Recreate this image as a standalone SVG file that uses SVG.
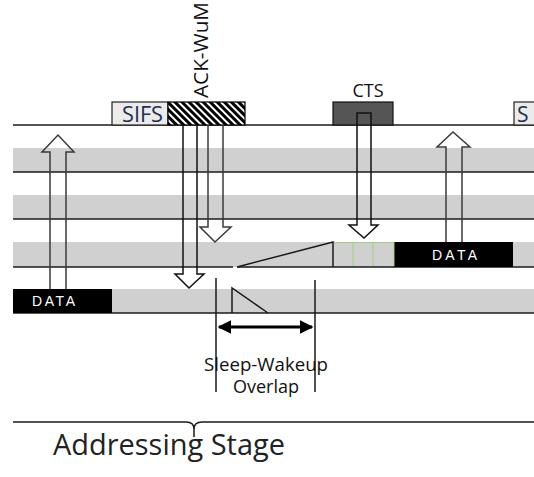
<svg xmlns="http://www.w3.org/2000/svg" width="534" height="477" viewBox="0 0 534 477">
<style>
.band{fill:#d0d0d0}
.ln{stroke:#1a1a1a;stroke-width:1.5;fill:none}
.arr{fill:none;stroke:#3a3a3a;stroke-width:1.5}
.arrk{fill:none;stroke:#111;stroke-width:1.5}
.lbl{font-family:"Open Sans","Liberation Sans",sans-serif;fill:#111}
.data{font-family:"Liberation Sans",Arial,sans-serif;font-size:14px;fill:#fff}
.green{stroke:#9fd07f;stroke-width:1;fill:none}
</style>
<defs>
<pattern id="hatch" width="5" height="5" patternUnits="userSpaceOnUse" patternTransform="rotate(45)">
<rect width="5" height="5" fill="#000"/>
<rect x="0" y="0" width="5" height="2" fill="#fff"/>
</pattern>
<marker id="ah" markerWidth="4.5" markerHeight="4.5" refX="4" refY="2.25" orient="auto-start-reverse" markerUnits="strokeWidth">
<path d="M0,0 L4.5,2.25 L0,4.5 Z" fill="#000"/>
</marker>
</defs>
<rect width="534" height="477" fill="#fff"/>
<g id="bands">
<rect class="band" x="13" y="148" width="521" height="24"/>
<rect class="band" x="13" y="195" width="521" height="24"/>
<rect class="band" x="13" y="242" width="521" height="25"/>
<rect class="band" x="13" y="289" width="521" height="24"/>
</g>
<g id="lines">
<line class="ln" x1="13" y1="125" x2="534" y2="125"/>
<line class="ln" x1="13" y1="172" x2="534" y2="172"/>
<line class="ln" x1="13" y1="219" x2="534" y2="219"/>
<line class="ln" x1="13" y1="267" x2="233" y2="267"/>
<line class="ln" x1="237" y1="267" x2="534" y2="267"/>
<line class="ln" x1="13" y1="313" x2="534" y2="313"/>
</g>
<g id="sifs">
<rect x="112" y="102" width="56" height="23" fill="#ebebeb" stroke="#222" stroke-width="1.2"/>
<text class="lbl" x="122" y="122" font-size="21" style="fill:#1f3050" textLength="41" lengthAdjust="spacingAndGlyphs">SIFS</text>
</g>
<g id="ack">
<rect x="168" y="102" width="77" height="23" fill="url(#hatch)" stroke="#000" stroke-width="1.2"/>
<text class="lbl" transform="translate(208,98) rotate(-90)" font-size="20" textLength="96" lengthAdjust="spacingAndGlyphs">ACK-WuM</text>
</g>
<g id="cts">
<rect x="333" y="102" width="60" height="23" fill="#555" stroke="#111" stroke-width="1.2"/>
<text class="lbl" x="368" y="97" font-size="18" text-anchor="middle">CTS</text>
</g>
<g id="sifs2">
<rect x="514" y="102" width="24" height="23" fill="#ebebeb" stroke="#222" stroke-width="1.2"/>
<text class="lbl" x="517" y="122" font-size="21" style="fill:#1f3050">S</text>
</g>
<g id="data1">
<rect x="13" y="289" width="99" height="24" fill="#000"/>
<text class="data" x="32" y="306" textLength="43" lengthAdjust="spacing">DATA</text>
</g>
<g id="data2">
<rect x="394" y="242" width="119" height="25" fill="#000"/>
<text class="data" x="432" y="260" textLength="45" lengthAdjust="spacing">DATA</text>
</g>
<g id="cells">
<line class="green" x1="333" y1="242.5" x2="394" y2="242.5"/>
<line class="green" x1="353" y1="242" x2="353" y2="266"/>
<line class="green" x1="373" y1="242" x2="373" y2="266"/>
<line class="green" x1="394" y1="242" x2="394" y2="266"/>
</g>
<g id="ramps">
<path class="ln" d="M237,267 L333,242 V267"/>
<path class="ln" d="M232,313 V288 L268,313"/>
</g>
<g id="connectors">
<polyline class="arr" points="50,289 50,152 42,152 58,135 74,152 66,152 66,289"/>
<polyline class="arr" points="446,242 446,147 437,147 453,132 470,147 462,147 462,242"/>
<polyline class="arrk" points="183,125 183,274 175,274 189,288 204,274 197,274 197,125"/>
<polyline class="arr" points="208,125 208,227 200,227 215,242 231,227 223,227 223,125"/>
<polygon class="arrk" points="357,113 371,113 371,225 378,225 364,238 349,225 357,225"/>
<line class="ln" x1="216" y1="278" x2="216" y2="392"/>
<line class="ln" x1="315" y1="280" x2="315" y2="392"/>
<line x1="219" y1="327" x2="312" y2="327" stroke="#000" stroke-width="3" marker-start="url(#ah)" marker-end="url(#ah)"/>
<path class="ln" d="M13,422 H186 Q194,422 194,429 Q194,422 202,422 H534 M194,429 V437"/>
</g>
<g id="labels">
<text class="lbl" x="266" y="371" font-size="18" text-anchor="middle" textLength="124" lengthAdjust="spacingAndGlyphs">Sleep-Wakeup</text>
<text class="lbl" x="266" y="393" font-size="18" text-anchor="middle">Overlap</text>
<text class="lbl" x="53" y="455" font-size="30" style="fill:#222" textLength="232" lengthAdjust="spacingAndGlyphs">Addressing Stage</text>
</g>
</svg>
